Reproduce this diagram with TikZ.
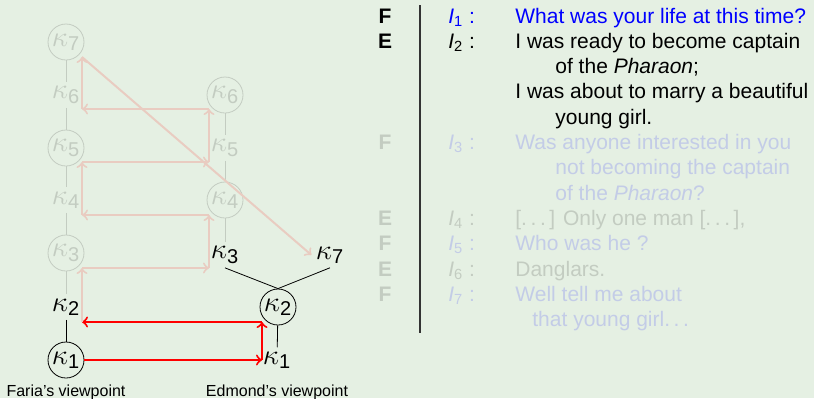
\documentclass[tikz,border=0pt]{standalone}
\usepackage{amsmath}
\usepackage{fontspec}
\setmainfont{Liberation Sans}

\definecolor{fondvert}{RGB}{229,240,227}
\colorlet{grispale}{black!15!fondvert}
\colorlet{bleupale}{blue!15!fondvert}
\colorlet{rougepale}{red!15!fondvert}

% Etat et intervention
\newcommand{\kap}[1]{$\kappa_{\text{#1}}$}
\newcommand{\interv}[1]{\textit{I}$_{\text{#1}}$\ :}
\newcommand{\pointssusp}{.\kern.17em.\kern.17em.\kern.17em}

\tikzset{
    etat/.style={draw, circle, minimum size=18pt, inner sep=0pt, font=\Large},
    lbl/.style={inner sep=2pt, font=\Large},
    eteint/.style={text=grispale},
    fleche/.style={->, red, line width=1pt},
    flechepale/.style={->, rougepale, line width=1pt},
    qui/.style={anchor=base, font=\fontsize{10.5}{12.6}\selectfont\bfseries},
    ligne/.style={anchor=base west, inner sep=0pt, font=\fontsize{10.5}{12.6}\selectfont},
    legende/.style={font=\footnotesize},
}

\begin{document}
\begin{tikzpicture}[x=0.5pt, y=-0.5pt]
        % Fond
        \fill[fondvert] (0,0) rectangle (814,398);
        \useasboundingbox (0,0) rectangle (814,398);

        % Point de vue de Faria
        \node[etat, eteint, draw=grispale] (k7g) at (66,42) {\kap{7}};
        \node[lbl, eteint] (k6g) at (66,95) {\kap{6}};
        \node[etat, eteint, draw=grispale] (k5g) at (66,148) {\kap{5}};
        \node[lbl, eteint] (k4g) at (66,200) {\kap{4}};
        \node[etat, eteint, draw=grispale] (k3g) at (66,253) {\kap{3}};
        \node[lbl] (k2g) at (66,307) {\kap{2}};
        \node[etat] (k1g) at (66,360) {\kap{1}};

        % Point de vue d'Edmond
        \node[etat, eteint, draw=grispale] (k6d) at (225,95) {\kap{6}};
        \node[lbl, eteint] (k5d) at (225,148) {\kap{5}};
        \node[etat, eteint, draw=grispale] (k4d) at (225,200) {\kap{4}};
        \node[lbl] (k3d) at (225,255) {\kap{3}};
        \node[lbl] (k7d) at (330,255) {\kap{7}};
        \node[etat] (k2d) at (278,307) {\kap{2}};
        \node[lbl] (k1d) at (277,360) {\kap{1}};

        \node[legende] (fv) at (66,392) {Faria's viewpoint};
        \node[legende] (ev) at (277,392) {Edmond's viewpoint};

        % Liens entre les etats
        \foreach \a/\b in {k7g/k6g, k6g/k5g, k5g/k4g, k4g/k3g, k3g/k2g, k6d/k5d, k5d/k4d, k4d/k3d}
            \draw[grispale] (\a) -- (\b);
        \draw (k2g) -- (k1g);
        \draw (k3d.south) -- (k2d.north);
        \draw (k7d.south) -- (k2d.north);
        \draw (k2d) -- (k1d);

        % Parcours du dialogue
        \coordinate (a1) at (262,360);
        \coordinate (a2) at (262,322);
        \coordinate (a3) at (82,322);
        \coordinate (a4) at (82,268);
        \coordinate (a5) at (209,268);
        \coordinate (a6) at (209,215);
        \coordinate (a7) at (82,215);
        \coordinate (a8) at (82,162);
        \coordinate (a9) at (209,162);
        \coordinate (a10) at (209,109);
        \coordinate (a11) at (82,109);
        \coordinate (a12) at (82,57);
        \draw[fleche] (k1g) -- (a1);
        \draw[fleche] (a1) -- (a2);
        \draw[fleche] (a2) -- (a3);
        \draw[flechepale] (a3) -- (a4);
        \draw[flechepale] (a4) -- (a5);
        \draw[flechepale] (a5) -- (a6);
        \draw[flechepale] (a6) -- (a7);
        \draw[flechepale] (a7) -- (a8);
        \draw[flechepale] (a8) -- (a9);
        \draw[flechepale] (a9) -- (a10);
        \draw[flechepale] (a10) -- (a11);
        \draw[flechepale] (a11) -- (a12);
        \draw[flechepale] (a12) -- (k7d.west);

        % Filet vertical
        \coordinate (haut) at (420,5);
        \coordinate (bas) at (420,333);
        \draw[line width=0.6pt, black!80] (haut) -- (bas);

        % Dialogue
        \node[qui] (q1) at (385,23) {F};
        \node[ligne, blue] (i1) at (448,23) {\interv{1}};
        \node[ligne, blue] (t1) at (515,23) {What was your life at this time?};

        \node[qui] (q2) at (385,48.3) {E};
        \node[ligne] (i2) at (448,48.3) {\interv{2}};
        \node[ligne] (t2a) at (515,48.3) {I was ready to become captain};
        \node[ligne] (t2b) at (555,73.6) {of the \textit{Pharaon};};
        \node[ligne] (t2c) at (515,98.9) {I was about to marry a beautiful};
        \node[ligne] (t2d) at (555,124.2) {young girl.};

        \node[qui, grispale] (q3) at (385,149.5) {F};
        \node[ligne, bleupale] (i3) at (448,149.5) {\interv{3}};
        \node[ligne, bleupale] (t3a) at (515,149.5) {Was anyone interested in you};
        \node[ligne, bleupale] (t3b) at (555,174.8) {not becoming the captain};
        \node[ligne, bleupale] (t3c) at (555,200.1) {of the \textit{Pharaon}?};

        \node[qui, grispale] (q4) at (385,225.4) {E};
        \node[ligne, grispale] (i4) at (448,225.4) {\interv{4}};
        \node[ligne, grispale] (t4) at (515,225.4) {[\pointssusp] Only one man [\pointssusp],};

        \node[qui, grispale] (q5) at (385,250.7) {F};
        \node[ligne, bleupale] (i5) at (448,250.7) {\interv{5}};
        \node[ligne, bleupale] (t5) at (515,250.7) {Who was he ?};

        \node[qui, grispale] (q6) at (385,276) {E};
        \node[ligne, grispale] (i6) at (448,276) {\interv{6}};
        \node[ligne, grispale] (t6) at (515,276) {Danglars.};

        \node[qui, grispale] (q7) at (385,301.3) {F};
        \node[ligne, bleupale] (i7) at (448,301.3) {\interv{7}};
        \node[ligne, bleupale] (t7a) at (515,301.3) {Well tell me about};
        \node[ligne, bleupale] (t7b) at (532,326.6) {that young girl.\kern.17em.\kern.17em.};
\end{tikzpicture}
\end{document}
